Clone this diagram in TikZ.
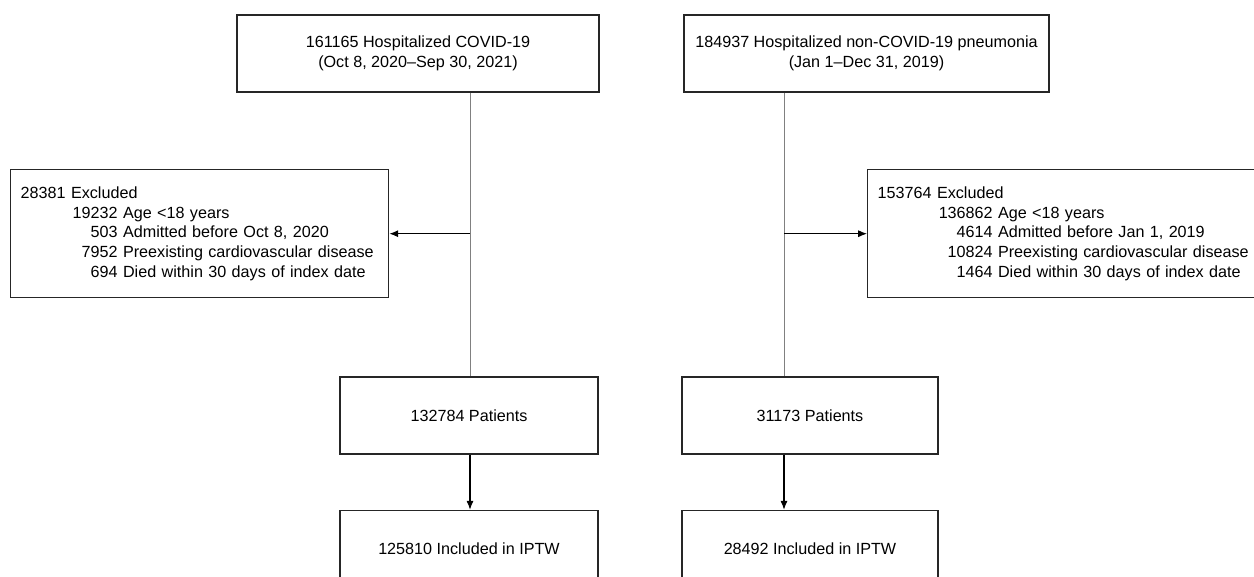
\documentclass[tikz,border=0pt]{standalone}
\usepackage{fontspec}
\setmainfont{Liberation Sans}
\usetikzlibrary{positioning,arrows.meta}

\newcommand{\exrow}[3]{\makebox[#1][r]{#2}\ #3}

\begin{document}
\begin{tikzpicture}[
    x=0.02cm, y=-0.02cm,
    font=\fontsize{9.2}{11.2}\selectfont,
    box/.style={draw=black!85, line width=0.8pt, align=center, minimum height=1.54cm},
    exbox/.style={draw=black!85, line width=0.8pt, anchor=north west, align=left, inner xsep=0.2cm, minimum height=2.56cm},
    feed/.style={draw=black!50, line width=0.5pt},
    connection/.style={-{Latex[length=5pt,width=4pt]}, line width=0.6pt}
]
\clip (0,0) rectangle (1254,576);

% Cohorts
\node[box, minimum width=7.24cm] (cov) at (418,53.5) {161165 Hospitalized COVID-19\\(Oct 8, 2020--Sep 30, 2021)};
\node[box, minimum width=7.3cm] (pna) at (866.5,53.5) {184937 Hospitalized non-COVID-19 pneumonia\\(Jan 1--Dec 31, 2019)};

% Flow lines
\coordinate (covx) at (470,0);
\coordinate (pnax) at (784,0);

% Exclusions
\node[exbox, text width=7.16cm] (covex) at (10,169) {28381 Excluded\\
    \exrow{1.94cm}{19232}{Age <18 years}\\
    \exrow{1.94cm}{503}{Admitted before Oct 8, 2020}\\
    \exrow{1.94cm}{7952}{Preexisting cardiovascular disease}\\
    \exrow{1.94cm}{694}{Died within 30 days of index date}};
\node[exbox, text width=7.54cm] (pnaex) at (867,169) {153764 Excluded\\
    \exrow{2.3cm}{136862}{Age <18 years}\\
    \exrow{2.3cm}{4614}{Admitted before Jan 1, 2019}\\
    \exrow{2.3cm}{10824}{Preexisting cardiovascular disease}\\
    \exrow{2.3cm}{1464}{Died within 30 days of index date}};

% Patients
\node[box, minimum width=5.16cm] (covpt) at (469,415.5) {132784 Patients};
\node[box, minimum width=5.12cm] (pnapt) at (810,415.5) {31173 Patients};

% IPTW
\node[box, minimum width=5.16cm, below=1.1cm of covpt] (coviptw) {125810 Included in IPTW};
\node[box, minimum width=5.12cm, below=1.1cm of pnapt] (pnaiptw) {28492 Included in IPTW};

% Flow
\draw[feed] (cov.south -| covx) -- (covpt.north -| covx);
\draw[feed] (pna.south -| pnax) -- (pnapt.north -| pnax);
\draw[connection] (covx |- covex.east) -- (covex.east);
\draw[connection] (pnax |- pnaex.west) -- (pnaex.west);
\draw[connection] (covpt.south -| covx) -- (coviptw.north -| covx);
\draw[connection] (pnapt.south -| pnax) -- (pnaiptw.north -| pnax);

\end{tikzpicture}
\end{document}
